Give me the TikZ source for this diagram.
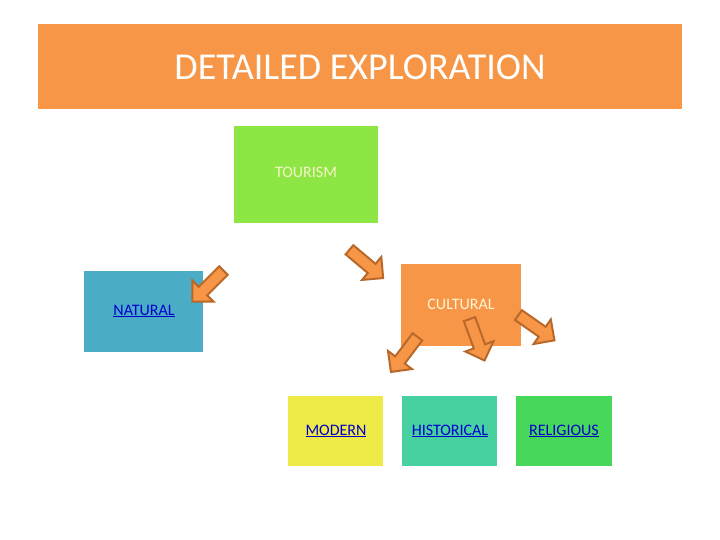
\documentclass[tikz,border=0pt]{standalone}
\usepackage{fontspec}
\setmainfont{Carlito}
\usetikzlibrary{shapes.arrows}
\definecolor{org}{HTML}{F79646}
\definecolor{arrline}{HTML}{B8692A}
\begin{document}
\begin{tikzpicture}[x=1pt,y=-1pt,
 box/.style={anchor=north west,inner sep=0,outer sep=0},
 lbl/.style={font=\fontsize{16}{18}\selectfont},
 link/.style={lbl,text=blue!80!black},
 barrow/.style={single arrow,draw=arrline,line width=2pt,fill=org,minimum height=44,minimum width=30,single arrow head extend=6,inner sep=3pt}]
\useasboundingbox (0,0) rectangle (720,540);
\fill[white] (0,0) rectangle (720,540);
\node[box,fill=org,minimum width=644,minimum height=85] (title) at (38,24) {};
\node[text=white,font=\fontsize{38}{44}\selectfont] (tt) at (360,67) {DETAILED EXPLORATION};
\node[box,fill={rgb,255:red,142;green,230;blue,68},minimum width=144,minimum height=97] (tour) at (234,126) {};
\node[lbl,text={rgb,255:red,245;green,245;blue,200}] (tourt) at (306,172) {TOURISM};
\node[box,fill={rgb,255:red,75;green,172;blue,198},minimum width=119,minimum height=81] (nat) at (84,271) {};
\node[link] (natt) at (144,311) {\underline{NATURAL}};
\node[box,fill=org,minimum width=120,minimum height=82] (cul) at (401,264) {};
\node[lbl,text={rgb,255:red,255;green,245;blue,215}] (cult) at (461,304) {CULTURAL};
\node[box,fill={rgb,255:red,238;green,234;blue,72},minimum width=95,minimum height=70] (mod) at (288,396) {};
\node[link] (modt) at (336,431) {\underline{MODERN}};
\node[box,fill={rgb,255:red,72;green,209;blue,160},minimum width=95,minimum height=70] (his) at (402,396) {};
\node[link] (hist) at (450,431) {\underline{HISTORICAL}};
\node[box,fill={rgb,255:red,71;green,216;blue,90},minimum width=96,minimum height=70] (rel) at (516,396) {};
\node[link] (relt) at (564,431) {\underline{RELIGIOUS}};
\node[barrow,rotate=-40] (a1) at (364,262) {};
\node[barrow,rotate=-135] (a2) at (210,284) {};
\node[barrow,rotate=-127] (a3) at (406,352) {};
\node[barrow,rotate=-70] (a4) at (476,337) {};
\node[barrow,rotate=-35] (a5) at (534,326) {};
\end{tikzpicture}
\end{document}
